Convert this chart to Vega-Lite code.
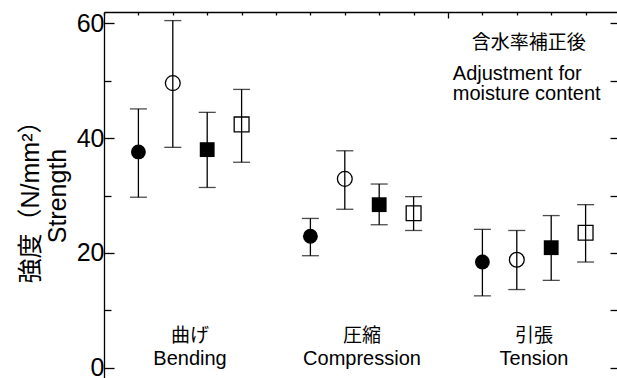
{
  "$schema": "https://vega.github.io/schema/vega-lite/v6.json",
  "width": 516,
  "height": 367,
  "autosize": "none",
  "padding": {"left": 104, "top": 12, "right": 0, "bottom": 0},
  "background": "white",
  "config": {
    "view": {"stroke": null},
    "axis": {
      "domainColor": "black",
      "domainWidth": 1.3,
      "tickColor": "black",
      "tickWidth": 1.3,
      "labelColor": "black",
      "labelFont": "Liberation Sans",
      "labelFontSize": 25,
      "titleColor": "black",
      "titleFont": "Liberation Sans, Noto Sans CJK JP",
      "titleFontWeight": "normal",
      "grid": false
    },
    "text": {"font": "Liberation Sans, Noto Sans CJK JP", "color": "black"}
  },
  "datasets": {
    "points": [
      {"test": "Bending", "pos": 1, "marker": "filled circle", "mean": 37.6, "lo": 29.7, "hi": 45.1},
      {"test": "Bending", "pos": 2, "marker": "open circle", "mean": 49.6, "lo": 38.4, "hi": 60.5},
      {"test": "Bending", "pos": 3, "marker": "filled square", "mean": 38.0, "lo": 31.4, "hi": 44.5},
      {"test": "Bending", "pos": 4, "marker": "open square", "mean": 42.4, "lo": 35.8, "hi": 48.5},
      {"test": "Compression", "pos": 6, "marker": "filled circle", "mean": 22.9, "lo": 19.5, "hi": 26.0},
      {"test": "Compression", "pos": 7, "marker": "open circle", "mean": 32.9, "lo": 27.6, "hi": 37.8},
      {"test": "Compression", "pos": 8, "marker": "filled square", "mean": 28.4, "lo": 24.9, "hi": 32.0},
      {"test": "Compression", "pos": 9, "marker": "open square", "mean": 26.9, "lo": 23.9, "hi": 29.8},
      {"test": "Tension", "pos": 11, "marker": "filled circle", "mean": 18.4, "lo": 12.5, "hi": 24.1},
      {"test": "Tension", "pos": 12, "marker": "open circle", "mean": 18.8, "lo": 13.6, "hi": 23.9},
      {"test": "Tension", "pos": 13, "marker": "filled square", "mean": 20.9, "lo": 15.2, "hi": 26.5},
      {"test": "Tension", "pos": 14, "marker": "open square", "mean": 23.5, "lo": 18.4, "hi": 28.4}
    ],
    "cats": [
      {"jp": "曲げ", "en": "Bending", "center": 2.5},
      {"jp": "圧縮", "en": "Compression", "center": 7.5},
      {"jp": "引張", "en": "Tension", "center": 12.5}
    ],
    "note": [
      {"jp": "含水率補正後", "en1": "Adjustment for", "en2": "moisture content"}
    ]
  },
  "resolve": {"axis": {"x": "independent", "y": "independent"}},
  "layer": [
    {
      "data": {"name": "points"},
      "mark": {"type": "rule", "color": "black", "strokeWidth": 1.3},
      "encoding": {
        "x": {
          "field": "pos", "type": "quantitative",
          "scale": {"domain": [0, 15], "nice": false, "zero": false},
          "axis": {
            "orient": "top", "title": null, "labels": false, "domain": true, "ticks": true,
            "values": [0, 1, 2, 3, 4, 5, 6, 7, 8, 9, 10, 11, 12, 13, 14, 15],
            "tickSize": {"condition": {"test": "datum.value === 10", "value": -6}, "value": -3}
          }
        },
        "y": {
          "field": "lo", "type": "quantitative",
          "scale": {"domain": [-2, 62], "nice": false, "zero": false},
          "axis": {
            "orient": "left",
            "title": ["強度（N/mm²）", "Strength"],
            "titleFontSize": 25,
            "titlePadding": 6,
            "values": [0, 10, 20, 30, 40, 50, 60],
            "labelExpr": "datum.value % 20 === 0 ? datum.label : ''",
            "labelPadding": 10,
            "tickSize": {"condition": {"test": "datum.value % 20 === 0", "value": -10}, "value": -7}
          }
        },
        "y2": {"field": "hi"}
      }
    },
    {
      "data": {"name": "points"},
      "mark": {"type": "tick", "orient": "horizontal", "size": 17, "thickness": 1.3, "color": "black"},
      "encoding": {
        "x": {"field": "pos", "type": "quantitative", "axis": null},
        "y": {"field": "lo", "type": "quantitative", "axis": null}
      }
    },
    {
      "data": {"name": "points"},
      "mark": {"type": "tick", "orient": "horizontal", "size": 17, "thickness": 1.3, "color": "black"},
      "encoding": {
        "x": {"field": "pos", "type": "quantitative", "axis": null},
        "y": {"field": "hi", "type": "quantitative", "axis": null}
      }
    },
    {
      "data": {"name": "points"},
      "transform": [{"filter": "indexof(datum.marker, 'filled') === 0"}],
      "mark": {"type": "point", "filled": true, "color": "black", "opacity": 1},
      "encoding": {
        "x": {"field": "pos", "type": "quantitative", "axis": null},
        "y": {
          "field": "mean", "type": "quantitative",
          "axis": {
            "orient": "right", "title": null, "labels": false,
            "values": [0, 10, 20, 30, 40, 50, 60],
            "tickSize": -10
          }
        },
        "shape": {
          "field": "marker", "type": "nominal", "legend": null,
          "scale": {"domain": ["filled circle", "open circle", "filled square", "open square"], "range": ["circle", "circle", "square", "square"]}
        },
        "size": {
          "field": "marker", "type": "nominal", "legend": null,
          "scale": {"domain": ["filled circle", "open circle", "filled square", "open square"], "range": [220, 220, 275, 250]}
        }
      }
    },
    {
      "data": {"name": "points"},
      "transform": [{"filter": "indexof(datum.marker, 'open') === 0"}],
      "mark": {"type": "point", "filled": false, "color": "black", "strokeWidth": 1.3, "opacity": 1},
      "encoding": {
        "x": {"field": "pos", "type": "quantitative", "axis": null},
        "y": {"field": "mean", "type": "quantitative", "axis": null},
        "shape": {
          "field": "marker", "type": "nominal", "legend": null,
          "scale": {"domain": ["filled circle", "open circle", "filled square", "open square"], "range": ["circle", "circle", "square", "square"]}
        },
        "size": {
          "field": "marker", "type": "nominal", "legend": null,
          "scale": {"domain": ["filled circle", "open circle", "filled square", "open square"], "range": [220, 220, 275, 250]}
        }
      }
    },
    {
      "data": {"name": "cats"},
      "mark": {"type": "text", "font": "Noto Sans CJK JP", "fontSize": 19, "align": "center", "baseline": "alphabetic"},
      "encoding": {
        "x": {"field": "center", "type": "quantitative", "axis": null},
        "y": {"datum": 4.5, "type": "quantitative", "axis": null},
        "text": {"field": "jp"}
      }
    },
    {
      "data": {"name": "cats"},
      "mark": {"type": "text", "font": "Liberation Sans", "fontSize": 20, "align": "center", "baseline": "alphabetic"},
      "encoding": {
        "x": {"field": "center", "type": "quantitative", "axis": null},
        "y": {"datum": 0.5, "type": "quantitative", "axis": null},
        "text": {"field": "en"}
      }
    },
    {
      "data": {"name": "note"},
      "mark": {"type": "text", "font": "Noto Sans CJK JP", "fontSize": 19, "align": "center", "baseline": "alphabetic"},
      "encoding": {
        "x": {"datum": 12.35, "type": "quantitative", "axis": null},
        "y": {"datum": 55.5, "type": "quantitative", "axis": null},
        "text": {"field": "jp"}
      }
    },
    {
      "data": {"name": "note"},
      "mark": {"type": "text", "font": "Liberation Sans", "fontSize": 20, "align": "left", "baseline": "alphabetic"},
      "encoding": {
        "x": {"datum": 10.14, "type": "quantitative", "axis": null},
        "y": {"datum": 50.2, "type": "quantitative", "axis": null},
        "text": {"field": "en1"}
      }
    },
    {
      "data": {"name": "note"},
      "mark": {"type": "text", "font": "Liberation Sans", "fontSize": 20, "align": "left", "baseline": "alphabetic"},
      "encoding": {
        "x": {"datum": 10.14, "type": "quantitative", "axis": null},
        "y": {"datum": 46.7, "type": "quantitative", "axis": null},
        "text": {"field": "en2"}
      }
    }
  ]
}
